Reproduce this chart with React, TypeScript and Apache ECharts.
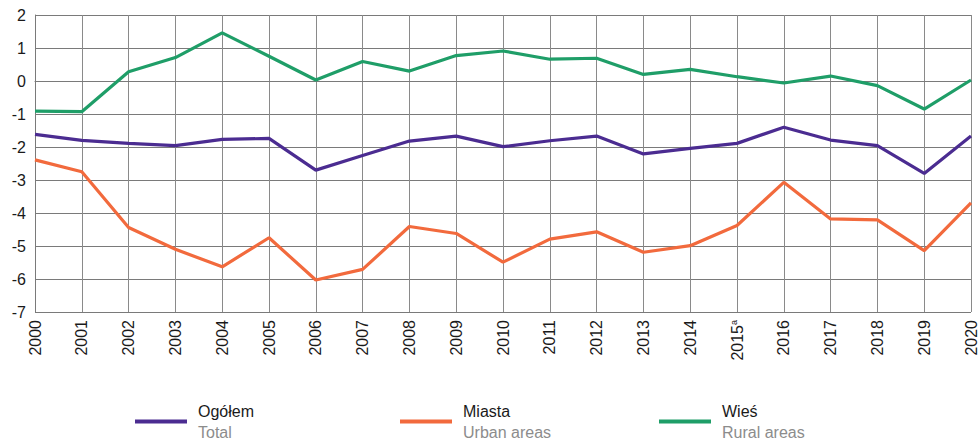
import React, { useEffect, useRef } from "react";
import * as echarts from "echarts";

const years = ["2000","2001","2002","2003","2004","2005","2006","2007","2008","2009","2010","2011","2012","2013","2014","2015","2016","2017","2018","2019","2020"];
const total = [-1.62,-1.80,-1.89,-1.96,-1.77,-1.74,-2.70,-2.26,-1.82,-1.67,-1.99,-1.81,-1.67,-2.21,-2.04,-1.89,-1.40,-1.79,-1.96,-2.80,-1.67];
const urban = [-2.39,-2.75,-4.44,-5.10,-5.63,-4.75,-6.03,-5.71,-4.41,-4.62,-5.49,-4.79,-4.57,-5.19,-4.99,-4.38,-3.07,-4.18,-4.21,-5.14,-3.69];
const rural = [-0.91,-0.93,0.28,0.71,1.46,0.75,0.03,0.59,0.30,0.77,0.91,0.66,0.69,0.20,0.35,0.13,-0.06,0.15,-0.14,-0.85,0.03];
const seriesNames = ["Ogółem", "Miasta", "Wieś"];
const seriesNamesEn = ["Total", "Urban areas", "Rural areas"];
const colors = ["#4b2c91", "#f26a3d", "#1f9e68"];
const footnoteYear = "2015";

export default function App() {
  const ref = useRef<HTMLDivElement>(null);
  useEffect(() => {
    if (!ref.current) return;
    const chart = echarts.init(ref.current, undefined, { renderer: "svg" });
    const font = "'Liberation Sans', Arial, sans-serif";
    const narrow = "'Liberation Sans Narrow', 'Liberation Sans', Arial, sans-serif";
    const data = [total, urban, rural];
    const legendLeft = [135, 400, 659];
    chart.setOption({
      animation: false,
      backgroundColor: "#ffffff",
      textStyle: { fontFamily: font },
      grid: { left: 35, right: 7, top: 15, bottom: 128, containLabel: false },
      legend: seriesNames.map((n, i) => ({
        data: [n],
        left: legendLeft[i],
        top: 403,
        padding: 0,
        itemWidth: 52,
        itemHeight: 4,
        icon: "rect",
        itemGap: 10,
        selectedMode: false,
        formatter: () => `{a|${seriesNames[i]}}\n{b|${seriesNamesEn[i]}}`,
        textStyle: {
          fontFamily: narrow,
          rich: {
            a: { fontSize: 16, color: "#1a1a1a", fontFamily: narrow, lineHeight: 21, padding: [0, 0, 0, 6] },
            b: { fontSize: 16, color: "#8c8c8c", fontFamily: narrow, lineHeight: 21, padding: [0, 0, 0, 6] },
          },
        },
      })),
      xAxis: {
        type: "category",
        data: years,
        boundaryGap: false,
        axisLine: { show: true, lineStyle: { color: "#7a7a7a", width: 1 } },
        axisTick: { show: false },
        splitLine: { show: true, lineStyle: { color: "#8a8a8a", width: 1 } },
        axisLabel: {
          rotate: 90,
          margin: 8,
          fontSize: 16,
          color: "#1a1a1a",
          fontFamily: font,
          interval: 0,
          formatter: (v: string) => (v === footnoteYear ? `${v}{s|a}` : v),
          rich: { s: { fontSize: 9, color: "#1a1a1a", verticalAlign: "top", padding: [0, 0, 6, 0] } },
        },
      },
      yAxis: {
        type: "value",
        min: -7,
        max: 2,
        interval: 1,
        axisLine: { show: true, lineStyle: { color: "#7a7a7a", width: 1 } },
        axisTick: { show: false },
        splitLine: { show: true, lineStyle: { color: "#7a7a7a", width: 1 } },
        axisLabel: { fontSize: 16, color: "#1a1a1a", margin: 9, fontFamily: font },
      },
      series: seriesNames.map((n, i) => ({
        name: n,
        type: "line",
        data: data[i],
        symbol: "none",
        color: colors[i],
        lineStyle: { color: colors[i], width: 3.2 },
        z: 3,
      })),
    });
    return () => chart.dispose();
  }, []);
  return (
    <div
      ref={ref}
      style={{ position: "fixed", left: 0, top: 0, width: 979, height: 440, background: "#fff" }}
    />
  );
}
